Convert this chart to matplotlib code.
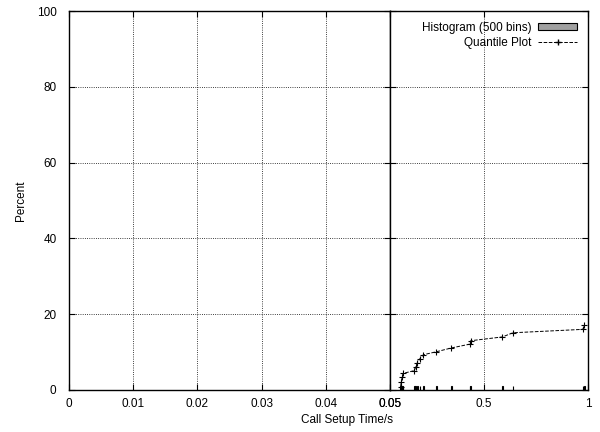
import matplotlib.pyplot as plt
from matplotlib.patches import Patch
from matplotlib.lines import Line2D

plt.rcParams.update({
    'font.family': ['Liberation Sans', 'DejaVu Sans'],
    'font.size': 8.5,
})

# Quantile plot: sorted call setup times (s) against cumulative percent
quant_t = [0.101, 0.104, 0.109, 0.114, 0.166, 0.174, 0.181, 0.194, 0.210,
           0.273, 0.345, 0.433, 0.437, 0.589, 0.640, 0.975, 0.983]
quant_pct = [0.9, 2.2, 3.5, 4.4, 5.1, 6.1, 7.2, 8.3, 9.3,
             10.1, 11.1, 12.1, 13.0, 14.0, 15.1, 16.0, 17.1]

# Histogram (500 bins over 0..1 s): occupied bin centres and percent per bin
hist_t = [0.101, 0.105, 0.109, 0.113, 0.167, 0.173, 0.181, 0.193, 0.211,
          0.273, 0.345, 0.433, 0.437, 0.589, 0.641, 0.975, 0.983]
hist_pct = [1.06, 1.06, 1.06, 1.06, 1.06, 1.06, 1.06, 1.06, 1.06,
            1.06, 1.06, 1.06, 1.06, 1.06, 1.06, 1.06, 1.06]
bin_width = 0.002

left_ticks = [0, 0.01, 0.02, 0.03, 0.04, 0.05]
right_ticks = [0.05, 0.5, 1]
y_ticks = [0, 20, 40, 60, 80, 100]

fig = plt.figure(figsize=(6.0, 4.32), dpi=100)
ax1 = fig.add_axes([69 / 600, 1 - 390 / 432, (390 - 69) / 600, (390 - 11) / 432])
ax2 = fig.add_axes([390 / 600, 1 - 390 / 432, (588 - 390) / 600, (390 - 11) / 432])

for ax in (ax1, ax2):
    ax.set_ylim(0, 100)
    ax.set_yticks(y_ticks)
    ax.tick_params(direction='in', length=4, width=0.8, top=True, right=True,
                   labelsize=8.5)
    ax.tick_params(axis='y', pad=9)
    ax.tick_params(axis='x', pad=6)
    ax.grid(True, color='black', linestyle=':', linewidth=0.6)
    ax.set_axisbelow(True)
    for s in ax.spines.values():
        s.set_linewidth(1.0)
    ax.bar(hist_t, hist_pct, width=bin_width, color='#a0a0a0',
           edgecolor='black', linewidth=0.8, zorder=3)
    ax.plot(quant_t, quant_pct, color='black', linestyle='--', linewidth=0.7,
            marker='+', markersize=5, markeredgewidth=0.8, zorder=4)

ax1.set_xlim(0, 0.05)
ax1.set_xticks(left_ticks)
ax1.set_xticklabels(['0', '0.01', '0.02', '0.03', '0.04', '0.05'])
ax1.set_ylabel('Percent')
ax1.yaxis.set_label_coords(-42 / 321, 0.5)

ax2.set_xlim(0.05, 1)
ax2.set_xticks(right_ticks)
ax2.set_xticklabels(['0.05', '0.5', '1'])
ax2.tick_params(labelleft=False)

fig.text(347 / 600, 1 - 420 / 432, 'Call Setup Time/s', ha='center', va='center',
         fontsize=8.5)

handles = [Patch(facecolor='#a0a0a0', edgecolor='black', linewidth=0.8),
           Line2D([], [], color='black', linestyle='--', linewidth=0.7,
                  marker='+', markersize=5)]
ax2.legend(handles, ['Histogram (500 bins)', 'Quantile Plot'], loc='upper right',
           bbox_to_anchor=(1.0, 1.0), markerfirst=False, frameon=False,
           fontsize=8.5, handlelength=3.3, handleheight=0.6, labelspacing=0.25,
           borderaxespad=0.5, handletextpad=0.6)

plt.savefig('out.png', dpi=100)
